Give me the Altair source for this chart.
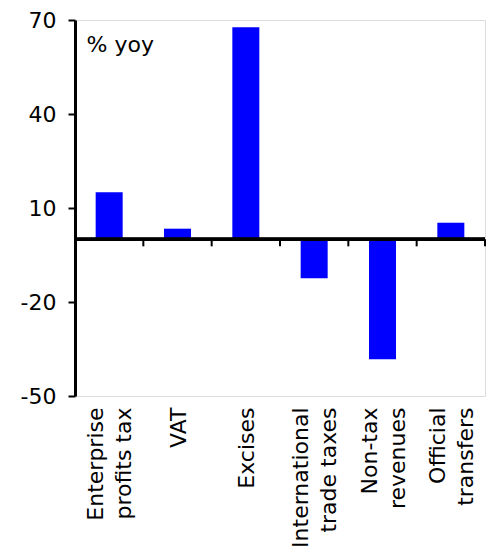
import altair as alt
import pandas as pd

categories = [
    "Enterprise\nprofits tax",
    "VAT",
    "Excises",
    "International\ntrade taxes",
    "Non-tax\nrevenues",
    "Official\ntransfers",
]
values = [15.0, 3.4, 67.7, -12.4, -38.3, 5.3]
y_ticks = [-50, -20, 10, 40, 70]

df = pd.DataFrame({"category": categories, "value": values})

W, H = 410, 376
FONT = "DejaVu Sans"

x_scale = alt.Scale(paddingInner=0, paddingOuter=0)
y_scale = alt.Scale(domain=[-50, 70], nice=False, zero=False)

x_axis = alt.Axis(
    title=None,
    domain=False,
    ticks=False,
    labelAngle=-90,
    labelAlign="right",
    labelBaseline="middle",
    labelPadding=11,
    labelFont=FONT,
    labelFontSize=22,
    labelColor="black",
    labelLineHeight=28,
    labelExpr="split(datum.label, '\\n')",
    labelOffset={"condition": {"test": "indexof(datum.value, '\\n') >= 0", "value": -13}, "value": 1},
)

y_axis = alt.Axis(
    values=y_ticks,
    grid=False,
    title="% yoy",
    titleAngle=0,
    titleX=11,
    titleY=31,
    titleAlign="left",
    titleBaseline="alphabetic",
    titleFont=FONT,
    titleFontSize=22,
    titleFontWeight="normal",
    titleColor="black",
    labelExpr="datum.value + ''",
    labelFont=FONT,
    labelFontSize=22,
    labelColor="black",
    labelPadding=12,
    domainColor="black",
    domainWidth=3,
    tickColor="black",
    tickWidth=2,
    tickSize=7,
)

bars = alt.Chart(df).mark_bar(color="#0000ff", size=27).encode(
    x=alt.X("category:N", sort=None, scale=x_scale, axis=x_axis),
    y=alt.Y("value:Q", scale=y_scale, axis=y_axis),
)

zero_line = alt.Chart(df).mark_rule(color="black", strokeWidth=3).encode(
    y=alt.Y(datum=0, scale=y_scale, axis=y_axis),
)

zero_ticks = alt.Chart(df).mark_rule(color="black", strokeWidth=2, y2Offset=7).encode(
    x=alt.X("category:N", sort=None, scale=x_scale, axis=x_axis, bandPosition=1),
    y=alt.Y(datum=0, scale=y_scale, axis=y_axis),
    y2=alt.Y2(datum=0),
)

chart = (
    alt.layer(bars, zero_line, zero_ticks)
    .properties(
        width=W,
        height=H,
        autosize=alt.AutoSizeParams(type="none"),
        padding={"left": 75, "top": 20, "right": 7, "bottom": 150},
    )
    .configure_view(strokeWidth=0)
    .configure(background="white")
)

chart.save("out.html", embed_options={"renderer": "svg", "actions": False})
